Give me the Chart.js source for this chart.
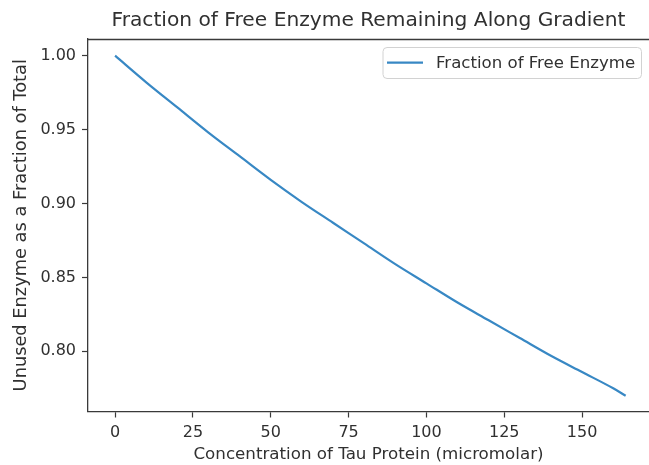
<!DOCTYPE html>
<html><head><meta charset="utf-8">
<script src="https://cdn.jsdelivr.net/npm/chart.js@4/dist/chart.umd.min.js"></script>
<style>html,body{margin:0;padding:0;background:#fff;} #wrap{width:649px;height:465px;position:relative;}</style>
</head><body><div id="wrap"><canvas id="c" width="649" height="465"></canvas></div>
<script>
// Data
const concentration = [0, 10, 20, 30, 40, 50, 60, 70, 80, 90, 100, 110, 120, 130, 140, 150, 160, 164];
const freeFraction  = [1.000, 0.982, 0.965, 0.948, 0.932, 0.916, 0.901, 0.887, 0.873, 0.859, 0.846, 0.833, 0.821, 0.809, 0.797, 0.786, 0.775, 0.770];
const xTickValues = [0, 25, 50, 75, 100, 125, 150];
const yTickValues = [0.80, 0.85, 0.90, 0.95, 1.00];
const chartTitle = 'Fraction of Free Enzyme Remaining Along Gradient';
const xAxisLabel = 'Concentration of Tau Protein (micromolar)';
const yAxisLabel = 'Unused Enzyme as a Fraction of Total';
const seriesLabel = 'Fraction of Free Enzyme';

const FONT = '"DejaVu Sans", sans-serif';
const TEXT = '#303030';
const AXIS = '#3a3a3a';
const LINE = '#3888c4';

const extras = {
  id: 'extras',
  afterDraw(chart) {
    const ctx = chart.ctx, a = chart.chartArea;
    ctx.save();
    // top frame
    ctx.strokeStyle = AXIS; ctx.lineWidth = 1.3;
    ctx.beginPath(); ctx.moveTo(a.left, a.top + 0.5); ctx.lineTo(a.right, a.top + 0.5); ctx.stroke();
    // title
    ctx.fillStyle = TEXT;
    ctx.font = '20.2px ' + FONT;
    ctx.textAlign = 'center'; ctx.textBaseline = 'middle';
    ctx.fillText(chartTitle, (a.left + a.right) / 2, 20.5);
    // legend
    const bx = 383, by = 47.5, bw = 258.5, bh = 31, r = 4;
    ctx.beginPath();
    ctx.moveTo(bx + r, by); ctx.lineTo(bx + bw - r, by); ctx.arcTo(bx + bw, by, bx + bw, by + r, r);
    ctx.lineTo(bx + bw, by + bh - r); ctx.arcTo(bx + bw, by + bh, bx + bw - r, by + bh, r);
    ctx.lineTo(bx + r, by + bh); ctx.arcTo(bx, by + bh, bx, by + bh - r, r);
    ctx.lineTo(bx, by + r); ctx.arcTo(bx, by, bx + r, by, r); ctx.closePath();
    ctx.fillStyle = 'rgba(255,255,255,0.85)'; ctx.fill();
    ctx.strokeStyle = '#d2d2d2'; ctx.lineWidth = 1; ctx.stroke();
    const ds = chart.data.datasets[0];
    ctx.strokeStyle = ds.borderColor; ctx.lineWidth = ds.borderWidth;
    ctx.beginPath(); ctx.moveTo(387, 62.7); ctx.lineTo(423, 62.7); ctx.stroke();
    ctx.fillStyle = TEXT; ctx.font = '16.6px ' + FONT;
    ctx.textAlign = 'left'; ctx.textBaseline = 'middle';
    ctx.fillText(ds.label, 436, 63.5);
    ctx.restore();
  }
};

new Chart(document.getElementById('c'), {
  type: 'line',
  data: {
    datasets: [{
      label: seriesLabel,
      data: concentration.map((x, i) => ({x: x, y: freeFraction[i]})),
      borderColor: LINE,
      borderWidth: 2.2,
      pointRadius: 0,
      cubicInterpolationMode: 'monotone',
      fill: false
    }]
  },
  options: {
    responsive: false,
    animation: false,
    devicePixelRatio: 1,
    layout: {padding: {top: 39, right: 0, bottom: 0, left: 0}},
    plugins: {legend: {display: false}, title: {display: false}, tooltip: {enabled: false}},
    scales: {
      x: {
        type: 'linear',
        min: -8.7, max: 171.5,
        afterBuildTicks: s => { s.ticks = xTickValues.map(v => ({value: v})); },
        afterFit: s => { s.height = 53.5; },
        grid: {drawOnChartArea: false, drawTicks: true, tickLength: 6, tickColor: AXIS, tickWidth: 1.2},
        border: {display: true, color: AXIS, width: 1.3},
        ticks: {color: TEXT, font: {family: FONT, size: 16}, padding: 5.5, maxRotation: 0,
                callback: v => String(v)},
        title: {display: true, text: xAxisLabel, color: TEXT, font: {family: FONT, size: 16.7},
                padding: {top: 0, bottom: 0}}
      },
      y: {
        type: 'linear',
        min: 0.7593, max: 1.0113,
        afterBuildTicks: s => { s.ticks = yTickValues.map(v => ({value: v})); },
        afterFit: s => { s.width = 88; },
        grid: {drawOnChartArea: false, drawTicks: true, tickLength: 6, tickColor: AXIS, tickWidth: 1.2},
        border: {display: true, color: AXIS, width: 1.3},
        ticks: {color: TEXT, font: {family: FONT, size: 16}, padding: 6,
                callback: v => Number(v).toFixed(2)},
        title: {display: true, text: yAxisLabel, color: TEXT, font: {family: FONT, size: 17.8},
                padding: {top: 10.3, bottom: 0}}
      }
    }
  },
  plugins: [extras]
});
</script>
</body></html>
